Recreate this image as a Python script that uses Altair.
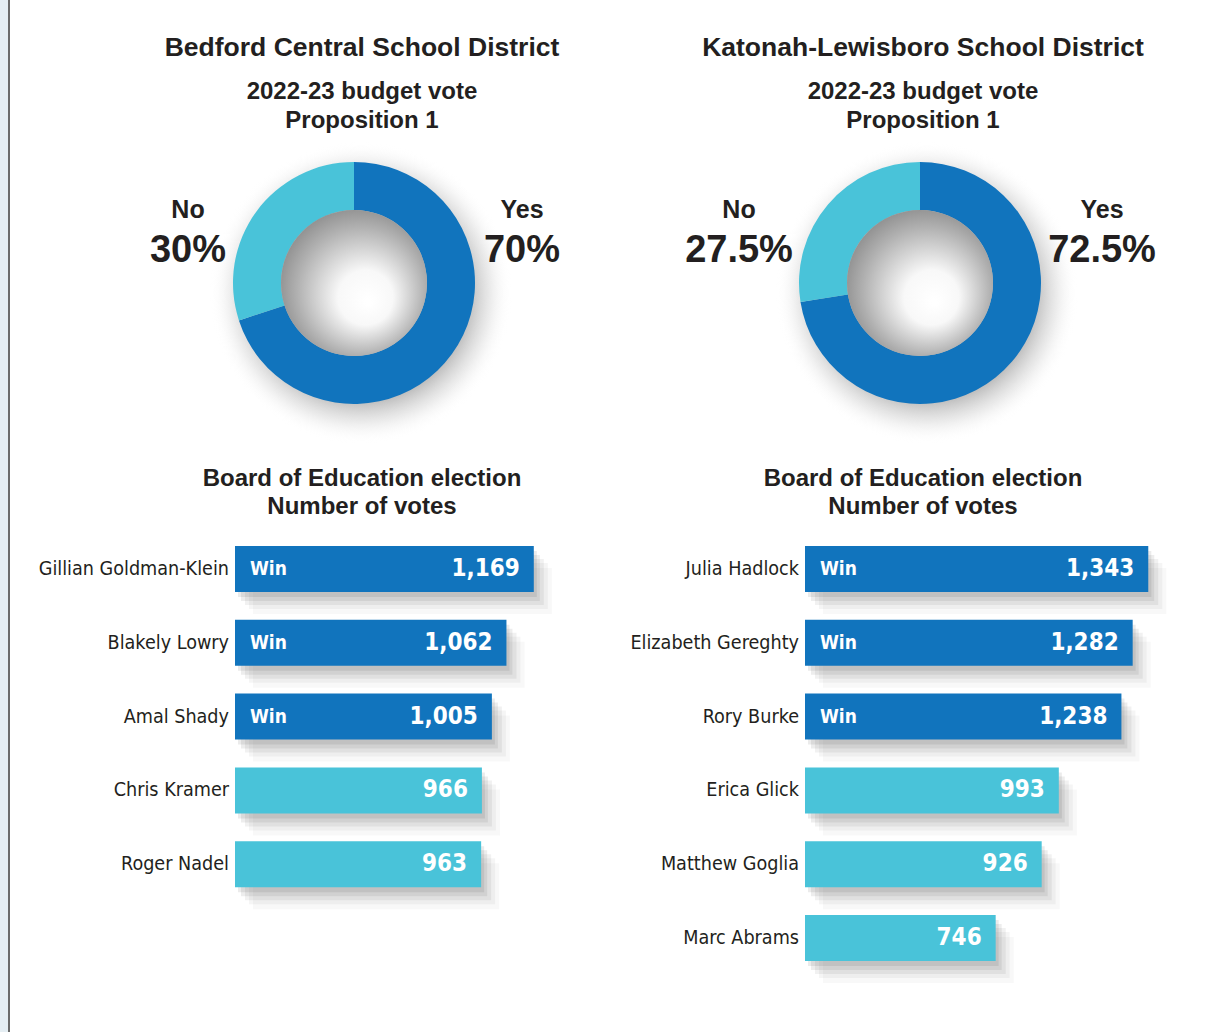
import altair as alt
import pandas as pd

W, H = 1224, 1032
DARK = "#1174bd"
LIGHT = "#49c3d9"
INK = "#231f20"
SANS = "Liberation Sans"
NARROW = "DejaVu Sans Condensed"

# ---- data ----
district_names = ["Bedford Central School District", "Katonah-Lewisboro School District"]
budget_answers = ["Yes", "No"]
bedford_budget = [70, 30]
katonah_budget = [72.5, 27.5]

bedford_names = ["Gillian Goldman-Klein", "Blakely Lowry", "Amal Shady", "Chris Kramer", "Roger Nadel"]
bedford_votes = [1169, 1062, 1005, 966, 963]
bedford_win = [True, True, True, False, False]

katonah_names = ["Julia Hadlock", "Elizabeth Gereghty", "Rory Burke", "Erica Glick", "Matthew Goglia", "Marc Abrams"]
katonah_votes = [1343, 1282, 1238, 993, 926, 746]
katonah_win = [True, True, True, False, False, False]

# layout (positions / styles)
cols = [
    dict(title_x=362, center_x=354, no_x=188, yes_x=522, bar_x0=235,
         budget=bedford_budget, names=bedford_names, votes=bedford_votes, wins=bedford_win),
    dict(title_x=923, center_x=920, no_x=739, yes_x=1102, bar_x0=805,
         budget=katonah_budget, names=katonah_names, votes=katonah_votes, wins=katonah_win),
]
DONUT_Y = 283
R_OUT, R_IN = 121, 73
PX_PER_VOTE = 0.2556
X_MAX = 1400

y_scale = alt.Scale(domain=[1, 2, 3, 4, 5, 6], range=[532, 975], paddingInner=0.376, paddingOuter=0.188)

layers = []

# left page edge
edge_df = pd.DataFrame({"a": [1]})
layers.append(alt.Chart(edge_df).mark_rect(color="#e5eef3").encode(
    x=alt.value(0), x2=alt.value(8), y=alt.value(0), y2=alt.value(H)))
layers.append(alt.Chart(edge_df).mark_rule(color="#3a3a3a", strokeWidth=1.5).encode(
    x=alt.value(9), y=alt.value(0), y2=alt.value(H)))


def txt(s, x, y, size, font=SANS, bold=True, color=INK, align="center"):
    return alt.Chart(pd.DataFrame({"t": [s]})).mark_text(
        font=font, fontSize=size, fontWeight="bold" if bold else "normal",
        color=color, align=align, baseline="middle").encode(
        text="t:N", x=alt.value(x), y=alt.value(y))


shadow_grad = alt.RadialGradient(
    gradient="radial", x1=0.5, y1=0.5, r1=0.0, x2=0.5, y2=0.5, r2=0.5,
    stops=[alt.GradientStop(offset=0, color="rgba(90,90,90,0.5)"),
           alt.GradientStop(offset=0.72, color="rgba(100,100,100,0.42)"),
           alt.GradientStop(offset=0.86, color="rgba(150,150,150,0.18)"),
           alt.GradientStop(offset=1, color="rgba(255,255,255,0)")])
hole_grad = alt.RadialGradient(
    gradient="radial", x1=0.6, y1=0.63, r1=0.02, x2=0.53, y2=0.53, r2=0.58,
    stops=[alt.GradientStop(offset=0, color="#ffffff"),
           alt.GradientStop(offset=0.3, color="#f8f8f8"),
           alt.GradientStop(offset=0.75, color="#b0b0b0"),
           alt.GradientStop(offset=1, color="#8a8a8a")])

for c, dname in zip(cols, district_names):
    tx = c["title_x"]
    cx = c["center_x"]
    layers.append(txt(dname, tx, 48, 26.5))
    layers.append(txt("2022-23 budget vote", tx, 92, 24))
    layers.append(txt("Proposition 1", tx, 121, 24))
    layers.append(txt("Board of Education election", tx, 479, 24))
    layers.append(txt("Number of votes", tx, 507, 24))

    # donut
    bdf = pd.DataFrame({"answer": budget_answers, "pct": c["budget"], "order": [0, 1],
                        "color": [DARK, LIGHT]})
    one = pd.DataFrame({"a": [1]})
    layers.append(alt.Chart(one).mark_arc(theta=0, theta2=6.2832, outerRadius=R_OUT + 30,
                                          fill=shadow_grad).encode(
        x=alt.value(cx + 7), y=alt.value(DONUT_Y + 10)))
    layers.append(alt.Chart(bdf).mark_arc(innerRadius=R_IN, outerRadius=R_OUT).encode(
        theta=alt.Theta("pct:Q", stack=True),
        order=alt.Order("order:Q"),
        color=alt.Color("color:N", scale=None),
        x=alt.value(cx), y=alt.value(DONUT_Y)))
    layers.append(alt.Chart(one).mark_arc(theta=0, theta2=6.2832, outerRadius=R_IN,
                                          fill=hole_grad).encode(
        x=alt.value(cx), y=alt.value(DONUT_Y)))
    for ans, lx in (("No", c["no_x"]), ("Yes", c["yes_x"])):
        base = alt.Chart(bdf).transform_filter(alt.datum.answer == ans).transform_calculate(
            lab="format(datum.pct, '.1~f') + '%'")
        layers.append(base.mark_text(font=SANS, fontSize=25, fontWeight="bold", color=INK,
                                     baseline="middle").encode(
            text="answer:N", x=alt.value(lx), y=alt.value(210)))
        layers.append(base.mark_text(font=SANS, fontSize=38, fontWeight="bold", color=INK,
                                     baseline="middle").encode(
            text="lab:N", x=alt.value(lx), y=alt.value(251)))

    # bars
    n = len(c["names"])
    df = pd.DataFrame({"name": c["names"], "votes": c["votes"], "win": c["wins"],
                       "rank": list(range(1, n + 1))})
    df["color"] = [DARK if w else LIGHT for w in df["win"]]
    xs = alt.Scale(domain=[0, X_MAX], range=[c["bar_x0"], c["bar_x0"] + X_MAX * PX_PER_VOTE])
    Y = alt.Y("rank:O", scale=y_scale, axis=None)
    X = alt.X("votes:Q", scale=xs, axis=None)
    X0 = alt.X(datum=0, scale=xs, axis=None)
    base = alt.Chart(df)
    for dx, dy, op in ((3, 5, 0.10), (6, 9, 0.09), (10, 13, 0.07), (14, 17, 0.05), (18, 22, 0.035)):
        layers.append(base.mark_bar(color="#3c3c3c", opacity=op, xOffset=dx, yOffset=dy).encode(
            x=X, y=Y))
    layers.append(base.mark_bar().encode(x=X, y=Y, color=alt.Color("color:N", scale=None)))
    layers.append(base.mark_text(font=NARROW, fontSize=19.6, color=INK, align="right",
                                 baseline="middle", dx=-6).encode(x=X0, y=Y, text="name:N"))
    layers.append(base.transform_filter(alt.datum.win).mark_text(
        font=NARROW, fontSize=19, fontWeight="bold", color="white", align="left",
        baseline="middle", dx=15).encode(x=X0, y=Y, text=alt.value("Win")))
    layers.append(base.mark_text(font=NARROW, fontSize=24, fontWeight="bold", color="white",
                                 align="right", baseline="middle", dx=-14).encode(
        x=X, y=Y, text=alt.Text("votes:Q", format=",")))

chart = alt.layer(*layers).resolve_scale(
    x="independent", theta="independent", color="independent"
).properties(
    width=W, height=H, padding=0, autosize=alt.AutoSizeParams(type="none"),
    background="white"
).configure_view(stroke=None)

chart.save("out.html", embed_options={"renderer": "svg", "actions": False})
